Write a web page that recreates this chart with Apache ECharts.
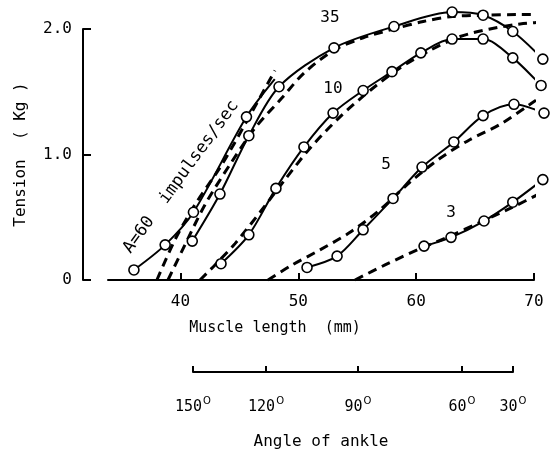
<!DOCTYPE html>
<html>
<head>
<meta charset="utf-8">
<script src="https://cdn.jsdelivr.net/npm/echarts@6/dist/echarts.min.js"></script>
<style>
  html, body { margin: 0; padding: 0; background: #fff; }
  #chart { width: 554px; height: 451px; }
</style>
</head>
<body>
<div id="chart"></div>
<script>
// 刻度
let lengthTicks = [40, 50, 60, 70]
let angleLabels = [150, 120, 90, 60, 30]
let angleAtLength = [41.06, 47.26, 55.07, 63.9, 68.23]

// 实测点 [muscle length (mm), tension (kg)]
let meas60 = [[36.05, 0.08], [38.7, 0.28], [41.1, 0.54], [45.6, 1.3]]
let tail60 = [[48.0, 1.6]]
let meas35 = [[41.0, 0.31], [43.35, 0.685], [45.8, 1.15], [48.36, 1.54], [53.03, 1.85], [58.12, 2.02], [63.05, 2.135], [65.68, 2.11], [68.2, 1.98], [70.75, 1.76]]
let meas10 = [[43.44, 0.13], [45.8, 0.36], [48.1, 0.73], [50.48, 1.06], [52.95, 1.33], [55.5, 1.51], [57.95, 1.66], [60.4, 1.81], [63.05, 1.92], [65.68, 1.92], [68.2, 1.77], [70.6, 1.55]]
let meas5 = [[50.74, 0.1], [53.29, 0.19], [55.5, 0.4], [58.04, 0.65], [60.5, 0.9], [63.2, 1.1], [65.68, 1.31], [68.3, 1.4], [70.85, 1.33]]
let meas3 = [[60.67, 0.27], [62.96, 0.34], [65.76, 0.47], [68.2, 0.62], [70.75, 0.8]]

// 计算曲线（虚线）
let calc60 = [[38.0, 0], [39.53, 0.32], [41.23, 0.6], [43.52, 0.92], [45.65, 1.27], [48.02, 1.67]]
let calc35 = [[38.94, 0], [40.38, 0.28], [42.08, 0.6], [44.2, 0.92], [46.32, 1.21], [48.6, 1.45], [50.5, 1.65], [53.0, 1.83], [55.5, 1.93], [58.1, 2.0], [60.6, 2.06], [63.1, 2.1], [66.0, 2.11], [68.5, 2.115], [71.7, 2.115]]
let calc10 = [[41.66, 0], [42.93, 0.12], [44.63, 0.29], [46.75, 0.54], [48.87, 0.8], [50.99, 1.05], [53.54, 1.3], [56.09, 1.51], [58.63, 1.69], [61.18, 1.83], [63.73, 1.94], [66.27, 2.0], [68.82, 2.04], [71.7, 2.06]]
let calc5 = [[47.43, 0], [49.3, 0.11], [51.84, 0.24], [54.39, 0.38], [56.94, 0.56], [59.48, 0.78], [62.03, 0.97], [64.58, 1.12], [67.12, 1.24], [69.67, 1.4], [71.7, 1.53]]
let calc3 = [[54.81, 0], [57.36, 0.12], [60.33, 0.25], [62.88, 0.35], [65.42, 0.46], [67.97, 0.57], [70.52, 0.69], [71.7, 0.75]]

let font = 'DejaVu Sans Mono'

// 实线 + 圆圈
let solid = function (data, tail) {
  let items = data.slice()
  if (tail) {
    tail.forEach(p => items.push({value: p, symbol: 'none'}))
  }
  return {
    type: 'line',
    data: items,
    clip: false,
    smooth: 0.3,
    symbol: 'circle',
    symbolSize: 10,
    lineStyle: {color: '#000', width: 2},
    itemStyle: {color: '#fff', borderColor: '#000', borderWidth: 1.6},
    z: 3
  }
}
// 虚线
let dashed = function (data) {
  return {
    type: 'line',
    data: data,
    clip: false,
    smooth: 0.3,
    symbol: 'none',
    lineStyle: {color: '#000', width: 3, type: [9, 6]},
    z: 2
  }
}

let label = function (text, x, y) {
  return {type: 'text', x: x, y: y, style: {text: text, font: '16px ' + font, fill: '#000', align: 'center', verticalAlign: 'middle'}}
}

let chartOption = {
  animation: false,
  backgroundColor: '#fff',
  grid: [
    {left: 108, right: 20, top: 29, bottom: 171},
    {left: 193, right: 41, top: 370, bottom: 76}
  ],
  xAxis: [
    {
      type: 'value', min: 33.85, max: 70,
      axisLine: {lineStyle: {color: '#000', width: 2}},
      axisTick: {inside: true, length: 7, lineStyle: {color: '#000', width: 2}, customValues: lengthTicks},
      axisLabel: {customValues: lengthTicks, margin: 14, color: '#000', fontFamily: font, fontSize: 16},
      splitLine: {show: false},
      name: 'Muscle length  (mm)',
      nameLocation: 'middle',
      nameGap: 41,
      nameTextStyle: {color: '#000', fontFamily: font, fontSize: 15, padding: [0, 92, 0, 0]}
    },
    {
      gridIndex: 1, type: 'value', min: angleAtLength[0], max: angleAtLength[angleAtLength.length - 1],
      axisLine: {lineStyle: {color: '#000', width: 2}},
      axisTick: {inside: true, length: 6, lineStyle: {color: '#000', width: 2}, customValues: angleAtLength},
      axisLabel: {
        customValues: angleAtLength, margin: 24, color: '#000', fontFamily: font, fontSize: 15,
        formatter: function (v) {
          let i = angleAtLength.indexOf(v)
          return '{n|' + angleLabels[i] + '}{d|O}'
        },
        rich: {
          n: {fontFamily: font, fontSize: 15, color: '#000'},
          d: {fontFamily: 'DejaVu Sans', fontSize: 10, color: '#000', padding: [0, 0, 12, 1]}
        }
      },
      splitLine: {show: false},
      name: 'Angle of ankle',
      nameLocation: 'middle',
      nameGap: 62,
      nameTextStyle: {color: '#000', fontFamily: font, fontSize: 16, padding: [0, 64, 0, 0]}
    }
  ],
  yAxis: [
    {
      type: 'value', min: 0, max: 2, interval: 1, offset: 25,
      axisLine: {show: true, lineStyle: {color: '#000', width: 2}},
      axisTick: {show: true, inside: true, length: 8, lineStyle: {color: '#000', width: 2}},
      axisLabel: {
        margin: 11, color: '#000', fontFamily: font, fontSize: 16,
        formatter: function (v) { return v === 0 ? '0' : v.toFixed(1) }
      },
      splitLine: {show: false},
      name: 'Tension  ( Kg )',
      nameLocation: 'middle',
      nameRotate: 90,
      nameGap: 54,
      nameTextStyle: {color: '#000', fontFamily: font, fontSize: 16}
    },
    {gridIndex: 1, type: 'value', show: false}
  ],
  graphic: [
    label('35', 330, 18),
    label('10', 333, 89),
    label('5', 386, 165),
    label('3', 451, 213),
    {type: 'text', x: 181, y: 177, rotation: 54 * Math.PI / 180, style: {text: 'A=60  impulses/sec', font: '17px ' + font, fill: '#000', align: 'center', verticalAlign: 'middle'}}
  ],
  series: [
    solid(meas60, tail60), solid(meas35), solid(meas10), solid(meas5), solid(meas3),
    dashed(calc60), dashed(calc35), dashed(calc10), dashed(calc5), dashed(calc3)
  ]
}

let chartInstance = echarts.init(document.querySelector('#chart'), null, {renderer: 'canvas'})
chartInstance.setOption(chartOption)
</script>
</body>
</html>
